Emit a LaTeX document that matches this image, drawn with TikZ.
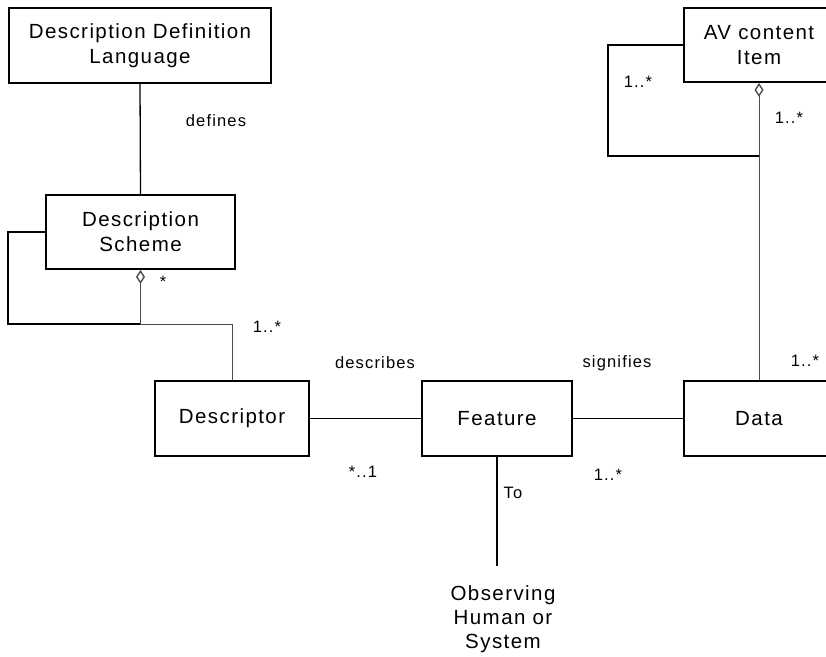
\documentclass[tikz,border=0pt]{standalone}
\usepackage{fontspec}
\setmainfont{Liberation Sans}[LetterSpace=7]
\usetikzlibrary{arrows.meta}
\newcommand{\bigf}{\fontsize{20.5}{25}\selectfont}
\newcommand{\obsf}{\fontsize{20.5}{24}\selectfont}
\newcommand{\smallf}{\fontsize{16.5}{20}\selectfont}
\begin{document}
\begin{tikzpicture}[x=1pt,y=-1pt,
  box/.style={draw, line width=1.8pt, align=center, inner sep=0pt, font=\bigf, fill=white},
  lbl/.style={inner sep=0pt, font=\smallf},
  conn/.style={line width=1.6pt},
  loopline/.style={line width=1.8pt},
  agg/.style={line width=0.8pt, black!70},
  aggtip/.style={{Diamond[open,length=14pt,width=9pt,line width=1.4pt]}-}
]
\useasboundingbox (0,0) rectangle (826,656);

% boxes
\node[box, minimum width=262pt, minimum height=75pt] (ddl) at (140,45.5) {Description Definition\\Language};
\node[box, minimum width=189pt, minimum height=74pt] (ds) at (140.5,232) {Description\\Scheme};
\node[box, minimum width=154pt, minimum height=75pt] (desc) at (232,418.5) {Descriptor};
\node[box, minimum width=150pt, minimum height=75pt] (feat) at (497,418.5) {Feature};
\node[box, minimum width=150pt, minimum height=75pt] (data) at (759,418.5) {Data};
\node[box, minimum width=150pt, minimum height=74pt] (av) at (759,45) {AV content\\Item};
\node[inner sep=0pt, align=center, font=\obsf] (obs) at (503,619) {Observing\\Human or\\System};

% junction coordinates
\coordinate (dsj) at (140.5,324);
\coordinate (avj) at (759,156);
\coordinate (obsend) at (497,566);

% connectors
\draw[conn, line width=1.3pt] (ddl.south) -- (ds.north);
\draw[conn] (desc.east) -- (feat.west);
\draw[conn] (feat.east) -- (data.west);
\draw[conn] (feat.south) -- (obsend);

% self loops
\draw[loopline] (ds.west) -- ++(-37,0) |- (dsj);
\draw[loopline] (av.west) -- ++(-75,0) |- (avj);

% aggregations
\draw[agg, aggtip] (ds.south) -- (dsj) -| (desc.north);
\draw[agg, aggtip] (av.south) -- (data.north);

% labels
\node[lbl] (l1) at (216,121) {defines};
\node[lbl] (l2) at (163,282) {*};
\node[lbl] (l3) at (267,327) {1..*};
\node[lbl] (l4) at (375,363) {describes};
\node[lbl] (l5) at (617,363) {signifies};
\node[lbl] (l6) at (363,472) {*..1};
\node[lbl] (l7) at (608,475) {1..*};
\node[lbl] (l8) at (513,493) {To};
\node[lbl] (l9) at (638,82) {1..*};
\node[lbl] (l10) at (789,118) {1..*};
\node[lbl] (l11) at (805,361) {1..*};
\end{tikzpicture}
\end{document}
